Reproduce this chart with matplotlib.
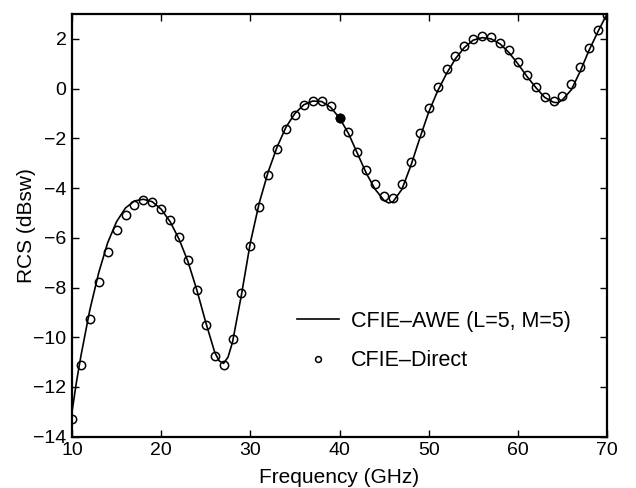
import matplotlib.pyplot as plt
import numpy as np

plt.rcParams['font.family'] = ['Liberation Sans', 'DejaVu Sans']

# CFIE-Direct samples (every 1 GHz)
freq_direct = np.arange(10, 71, 1)
rcs_direct = [-13.28, -11.1, -9.27, -7.77, -6.57, -5.68, -5.07, -4.69, -4.50, -4.56,
              -4.83, -5.27, -5.95, -6.9, -8.1, -9.52, -10.75, -11.1, -10.06, -8.24,
              -6.35, -4.75, -3.46, -2.43, -1.61, -1.06, -0.66, -0.48, -0.48, -0.70,
              -1.18, -1.76, -2.56, -3.29, -3.83, -4.33, -4.42, -3.83, -2.96, -1.79,
              -0.78, 0.08, 0.78, 1.30, 1.72, 1.99, 2.11, 2.08, 1.85, 1.54,
              1.07, 0.55, 0.07, -0.34, -0.50, -0.30, 0.17, 0.87, 1.65, 2.35, 2.97]

# CFIE-AWE curve
freq_awe = [10, 10.5, 11, 12, 13, 14, 15, 16, 17, 18, 19, 20, 21, 22, 23, 24, 25, 26, 26.5,
            27, 27.5, 28, 29, 30, 31, 32, 33, 34, 35, 36, 37, 38, 39, 40, 41, 42, 43, 44,
            45, 45.5, 46, 47, 48, 49, 50, 51, 52, 53, 54, 55, 56, 57, 58, 59, 60, 61,
            62, 63, 64, 64.5, 65, 66, 67, 68, 69, 70]
rcs_awe = [-13.0, -11.8, -10.75, -8.9, -7.4, -6.2, -5.35, -4.8, -4.52, -4.45, -4.55, -4.85,
           -5.35, -6.05, -6.95, -8.1, -9.4, -10.6, -10.95, -11.05, -10.8, -10.2, -8.3,
           -6.2, -4.6, -3.35, -2.35, -1.55, -1.0, -0.65, -0.5, -0.52, -0.75, -1.18, -1.8,
           -2.6, -3.4, -4.05, -4.5, -4.6, -4.55, -4.05, -3.1, -2.0, -0.95, -0.1, 0.6, 1.2,
           1.65, 1.95, 2.05, 2.0, 1.8, 1.45, 1.0, 0.5, 0.05, -0.35, -0.55, -0.57, -0.45,
           -0.05, 0.7, 1.55, 2.3, 3.0]

fig = plt.figure(figsize=(6.36, 4.88), dpi=100)
ax = fig.add_axes([72/636, 1 - 436.7/488, 535/636, 422.7/488])

ax.plot(freq_awe, rcs_awe, color='black', linewidth=1.2, label='CFIE\u2013AWE (L=5, M=5)')
ax.plot(freq_direct, rcs_direct, linestyle='none', marker='o', markersize=6,
        markerfacecolor='none', markeredgecolor='black', markeredgewidth=1.1,
        label='CFIE\u2013Direct')
# one filled marker at 40 GHz, as in the picture
ax.plot(freq_direct[30], rcs_direct[30], marker='o', markersize=6, color='black',
        linestyle='none')

ax.set_xlim(10, 70)
ax.set_ylim(-14, 3)
ax.set_xticks(range(10, 71, 10))
ax.set_yticks(range(-14, 3, 2))
ax.set_yticklabels([str(v).replace('-', '\u2212') for v in range(-14, 3, 2)])
ax.tick_params(direction='in', top=True, right=True, length=5, width=1,
               labelsize=14, pad=4)
for s in ax.spines.values():
    s.set_linewidth(1.6)

ax.set_xlabel('Frequency (GHz)', fontsize=15, labelpad=6)
ax.set_ylabel('RCS (dBsw)', fontsize=15, labelpad=-2)

leg = ax.legend(loc='center left', bbox_to_anchor=(0.4206, 0.2264), frameon=False,
                fontsize=15.5, handlelength=1.95, handletextpad=0.56, labelspacing=0.85,
                borderpad=0, borderaxespad=0, markerscale=0.7)

fig.savefig('out.png', dpi=100)
